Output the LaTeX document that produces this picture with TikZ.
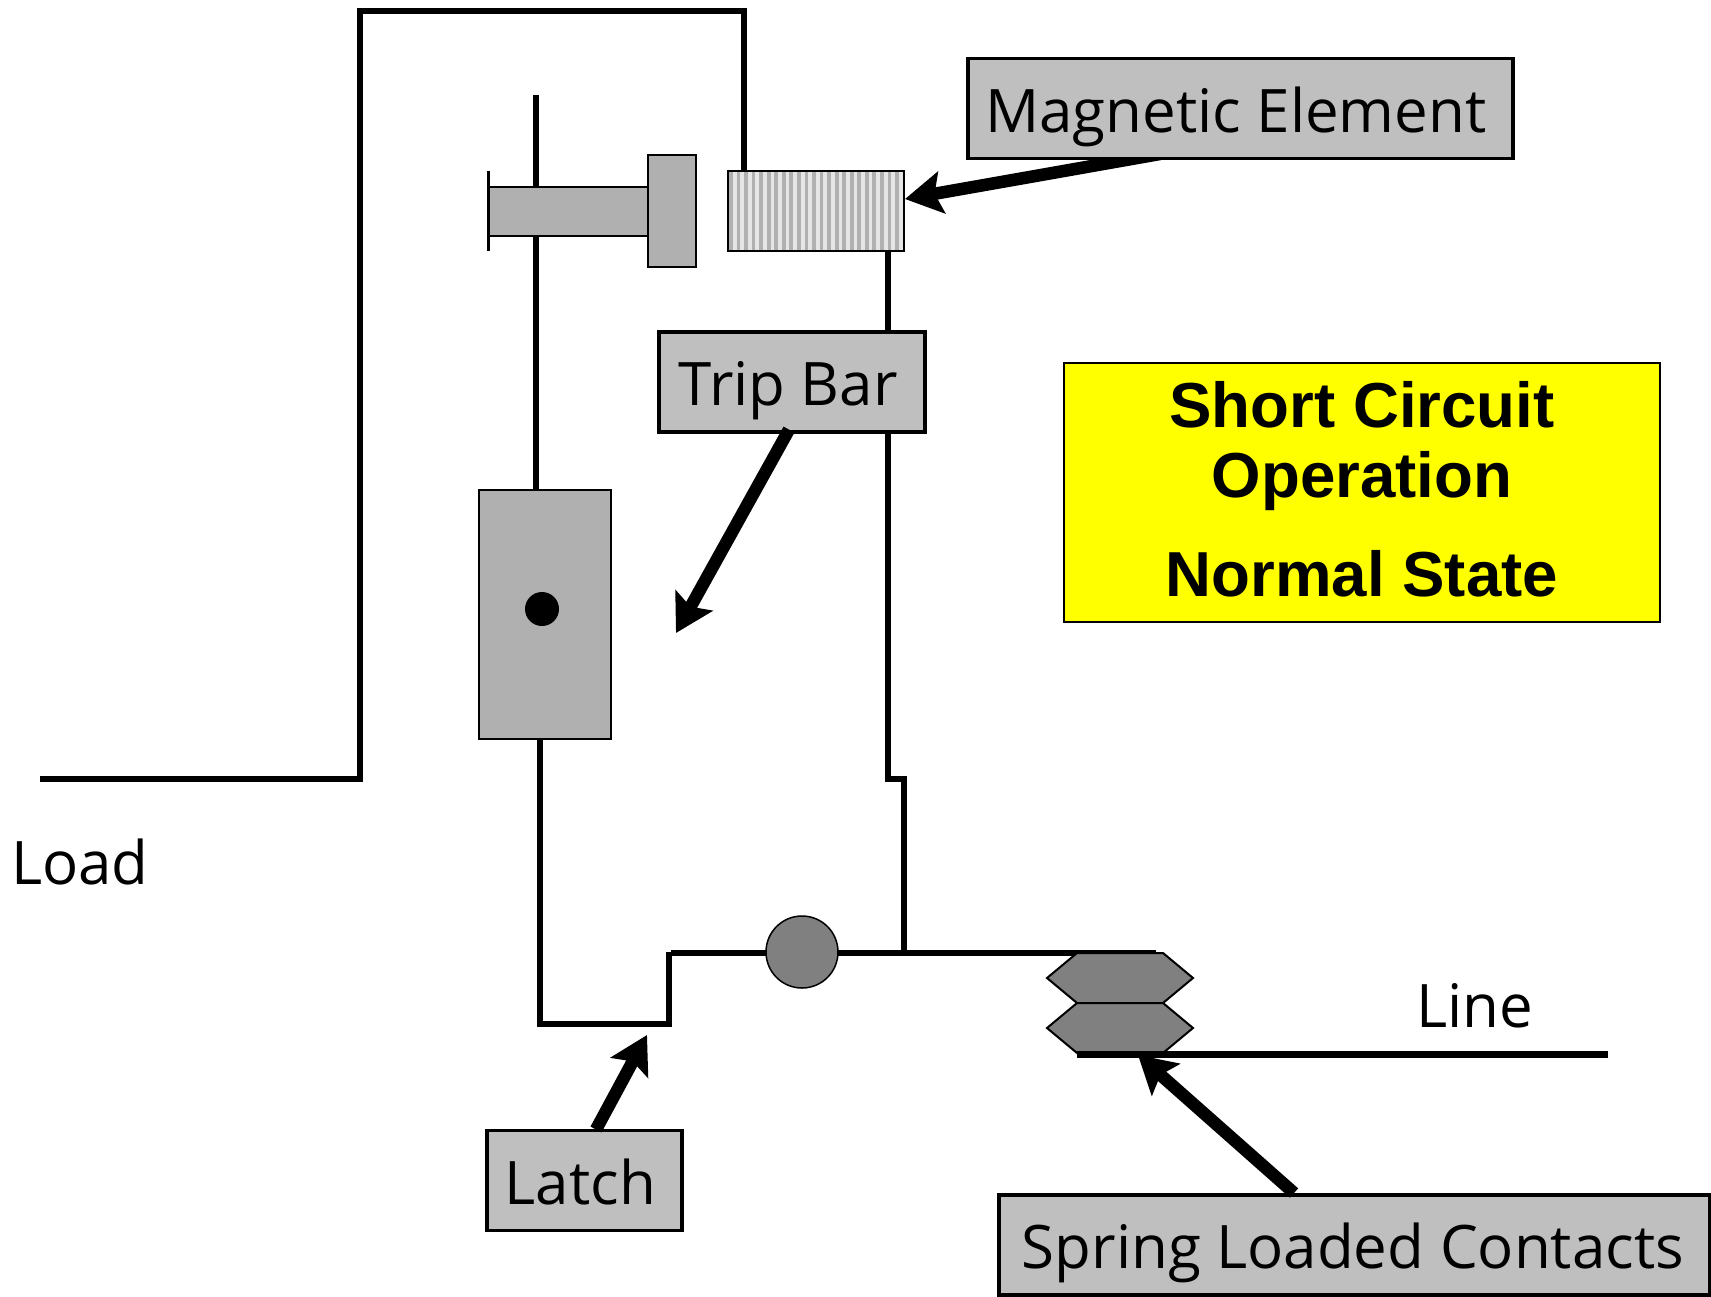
\documentclass[tikz,border=0pt]{standalone}
\usepackage{fontspec}
\setmainfont{Open Sans}
\newfontfamily\boldarial{Liberation Sans}
\usetikzlibrary{arrows.meta}
\definecolor{partgray}{gray}{0.69}
\definecolor{labelgray}{gray}{0.75}
\definecolor{contactgray}{gray}{0.5}
\definecolor{titleyellow}{rgb}{1,1,0}
\tikzset{
  wire/.style={line width=6.3pt,line cap=butt,line join=miter},
  pointer/.style={line width=12.5pt,-{Stealth[length=37pt,width=42pt,inset=7pt]}},
  labelbox/.style={draw=black,line width=3.6pt,fill=labelgray,inner sep=0pt,text height=74pt,text depth=26pt,font=\fontsize{60}{60}\selectfont},
  part/.style={draw=black,line width=1.8pt,fill=partgray},
  contact/.style={draw=black,line width=2pt,fill=contactgray,line join=miter},
  plain/.style={font=\fontsize{60}{60}\selectfont,inner sep=0pt},
  titleline/.style={font=\boldarial\bfseries\fontsize{63.6}{64}\selectfont,inner sep=0pt}
}
\begin{document}
\begin{tikzpicture}[x=1pt,y=-1pt]
\useasboundingbox (0,0) rectangle (1711,1296);
% wires
\coordinate (loadstart) at (40,779);
\coordinate (loadcorner) at (360,779);
\coordinate (topleft) at (360,11);
\coordinate (topright) at (744,11);
\coordinate (coiltop) at (744,171);
\draw[wire] (loadstart) -- (loadcorner) -- (topleft) -- (topright) -- (coiltop);
\coordinate (bartop) at (536,95);
\coordinate (barbottom) at (536,490);
\draw[wire] (bartop) -- (barbottom);
\coordinate (coilbottom) at (888,250);
\coordinate (jogA) at (888,779);
\coordinate (jogB) at (904,779);
\coordinate (jogC) at (904,952);
\draw[wire] (coilbottom) -- (jogA) -- (jogB) -- (jogC);
\coordinate (rotorbottom) at (540,738);
\coordinate (latchA) at (540,1024);
\coordinate (latchB) at (669,1024);
\coordinate (latchC) at (669,952);
\draw[wire] (rotorbottom) -- (latchA) -- (latchB) -- (latchC);
\coordinate (armstart) at (671,953);
\coordinate (armend) at (1156,953);
\draw[wire] (armstart) -- (armend);
\coordinate (linestart) at (1077,1054);
\coordinate (lineend) at (1608,1054);
% plunger
\node[part,minimum width=160pt,minimum height=49pt,inner sep=0pt,anchor=north west] (plunger) at (488,186) {};
\node[part,minimum width=48pt,minimum height=112pt,inner sep=0pt,anchor=north west] (head) at (647,154) {};
\coordinate (stopT) at (488,171);
\coordinate (stopB) at (488,251);
\draw[line width=3pt] (stopT) -- (stopB);
% coil
\begin{scope}
\clip (727,170) rectangle (903,251);
\fill[gray!20] (727,170) rectangle (903,251);
\foreach \i in {0,...,23} {
  \fill[partgray] ({729+7.55*\i},170) rectangle ({732.8+7.55*\i},251);
}
\end{scope}
\node[draw=black,line width=1.8pt,minimum width=176pt,minimum height=80pt,inner sep=0pt,anchor=north west] (coil) at (727,170) {};
% rotor
\node[part,minimum width=132pt,minimum height=249pt,inner sep=0pt,anchor=north west] (rotor) at (478,489) {};
\node[fill=black,circle,minimum size=34pt,inner sep=0pt] (dot) at (542,609) {};
% pivot
\node[draw=black,line width=1.5pt,fill=contactgray,circle,minimum size=72pt,inner sep=0pt] (pivot) at (802,952) {};
% contacts
\draw[contact] (1077,953) -- (1163,953) -- (1193,978) -- (1163,1003) -- (1077,1003) -- (1047,978) -- cycle;
\draw[contact] (1077,1003) -- (1163,1003) -- (1193,1028) -- (1163,1053) -- (1077,1053) -- (1047,1028) -- cycle;
\draw[wire,line width=7pt] (linestart) -- (lineend);
% labels
\coordinate (magtail) at (1160,154);
\coordinate (ptrA) at (905,199);
\draw[pointer] (magtail) -- (ptrA);
\node[labelbox,minimum width=545pt,anchor=north west] (magnetic) at (966,56.5) {Magnetic Element\kern9pt};
\node[labelbox,minimum width=266pt,anchor=north west] (tripbar) at (657,330) {Trip Bar\kern7pt};
\node[labelbox,minimum width=195pt,anchor=north west] (latch) at (485,1128.5) {Latch\kern8pt};
\node[labelbox,minimum width=711pt,anchor=north west] (spring) at (997,1193) {Spring Loaded Contacts\kern3pt};
\node[draw=black,line width=1.8pt,fill=titleyellow,minimum width=596pt,minimum height=259pt,inner sep=0pt,anchor=north west] (title) at (1063,362) {};
\node[titleline] (t1) at (1362,405) {Short Circuit};
\node[titleline] (t2) at (1362,481) {Operation};
\node[titleline] (t3) at (1362,574) {Normal State};
\node[plain,anchor=base west] (load) at (11,884) {Load};
\node[plain,anchor=base west] (line) at (1416,1027) {Line};
% pointers
\coordinate (ptrB) at (676,633);
\coordinate (ptrC) at (647,1035);
\coordinate (ptrD) at (1138,1055);
\draw[pointer] ([shift={(132,-4)}]tripbar.south west) -- (ptrB);
\draw[pointer] ([shift={(111,1)}]latch.north west) -- (ptrC);
\draw[pointer] ([shift={(297,0)}]spring.north west) -- (ptrD);
\end{tikzpicture}
\end{document}
